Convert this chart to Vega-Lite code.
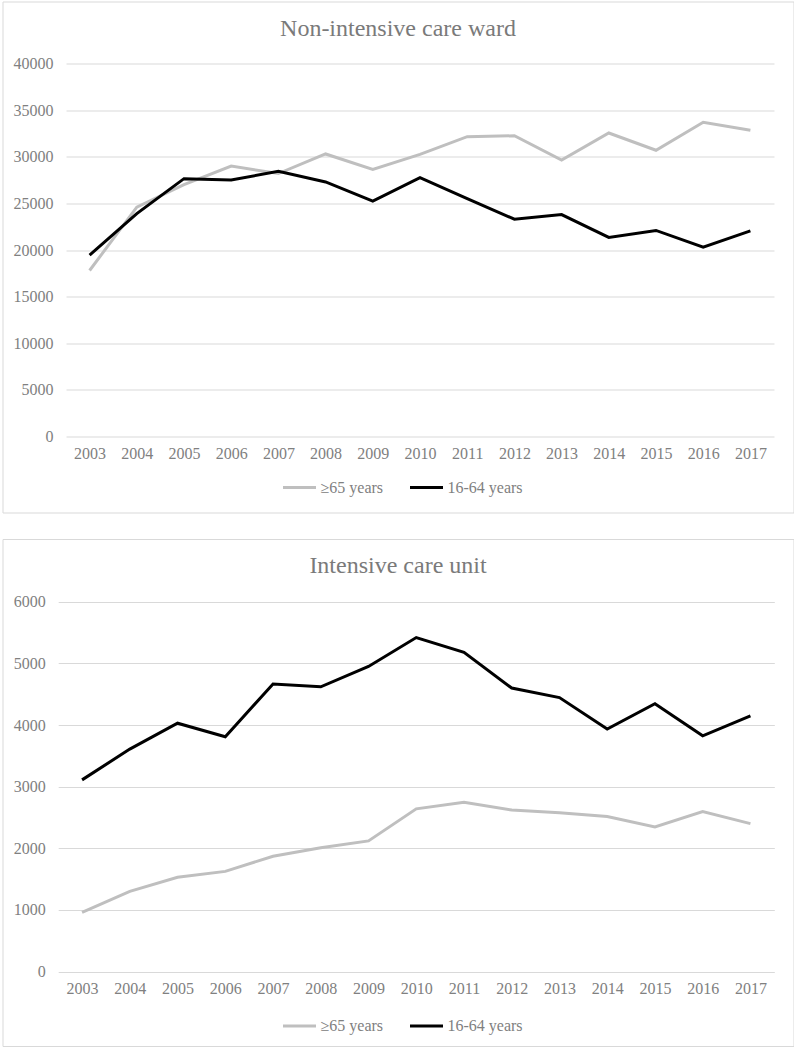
{
  "$schema": "https://vega.github.io/schema/vega-lite/v6.json",
  "padding": {"left": 1.5, "top": 0.5, "right": 1, "bottom": 1},
  "config": {
    "font": "Liberation Serif",
    "view": {"stroke": "#d9d9d9", "strokeWidth": 1},
    "concat": {"spacing": 24.5},
    "axis": {
      "labelFont": "Liberation Serif",
      "labelFontSize": 16,
      "labelColor": "#808080",
      "domain": false,
      "ticks": false,
      "title": null,
      "gridColor": "#d9d9d9",
      "gridWidth": 1
    },
    "legend": {
      "labelFont": "Liberation Serif",
      "labelFontSize": 16,
      "labelColor": "#808080",
      "symbolStrokeWidth": 3,
      "symbolSize": 1089,
      "symbolType": "stroke",
      "columnPadding": 20,
      "labelOffset": 3,
      "title": null
    },
    "title": {
      "font": "Liberation Serif",
      "fontSize": 24,
      "fontWeight": "normal",
      "color": "#7a7a7a",
      "anchor": "middle",
      "baseline": "alphabetic"
    }
  },
  "resolve": {"scale": {"color": "independent"}, "legend": {"color": "independent"}},
  "datasets": {
    "ward": [
      {"year": "2003", "group": "≥65 years", "value": 17800},
      {"year": "2004", "group": "≥65 years", "value": 24600},
      {"year": "2005", "group": "≥65 years", "value": 27000},
      {"year": "2006", "group": "≥65 years", "value": 29000},
      {"year": "2007", "group": "≥65 years", "value": 28200},
      {"year": "2008", "group": "≥65 years", "value": 30300},
      {"year": "2009", "group": "≥65 years", "value": 28650},
      {"year": "2010", "group": "≥65 years", "value": 30250},
      {"year": "2011", "group": "≥65 years", "value": 32150},
      {"year": "2012", "group": "≥65 years", "value": 32250},
      {"year": "2013", "group": "≥65 years", "value": 29650},
      {"year": "2014", "group": "≥65 years", "value": 32550},
      {"year": "2015", "group": "≥65 years", "value": 30700},
      {"year": "2016", "group": "≥65 years", "value": 33700},
      {"year": "2017", "group": "≥65 years", "value": 32850},
      {"year": "2003", "group": "16-64 years", "value": 19450},
      {"year": "2004", "group": "16-64 years", "value": 23900},
      {"year": "2005", "group": "16-64 years", "value": 27650},
      {"year": "2006", "group": "16-64 years", "value": 27500},
      {"year": "2007", "group": "16-64 years", "value": 28450},
      {"year": "2008", "group": "16-64 years", "value": 27300},
      {"year": "2009", "group": "16-64 years", "value": 25250},
      {"year": "2010", "group": "16-64 years", "value": 27750},
      {"year": "2011", "group": "16-64 years", "value": 25500},
      {"year": "2012", "group": "16-64 years", "value": 23300},
      {"year": "2013", "group": "16-64 years", "value": 23800},
      {"year": "2014", "group": "16-64 years", "value": 21350},
      {"year": "2015", "group": "16-64 years", "value": 22100},
      {"year": "2016", "group": "16-64 years", "value": 20300},
      {"year": "2017", "group": "16-64 years", "value": 22050}
    ],
    "icu": [
      {"year": "2003", "group": "≥65 years", "value": 960},
      {"year": "2004", "group": "≥65 years", "value": 1300},
      {"year": "2005", "group": "≥65 years", "value": 1530},
      {"year": "2006", "group": "≥65 years", "value": 1625},
      {"year": "2007", "group": "≥65 years", "value": 1870},
      {"year": "2008", "group": "≥65 years", "value": 2010},
      {"year": "2009", "group": "≥65 years", "value": 2120},
      {"year": "2010", "group": "≥65 years", "value": 2640},
      {"year": "2011", "group": "≥65 years", "value": 2745},
      {"year": "2012", "group": "≥65 years", "value": 2620},
      {"year": "2013", "group": "≥65 years", "value": 2575},
      {"year": "2014", "group": "≥65 years", "value": 2515},
      {"year": "2015", "group": "≥65 years", "value": 2345},
      {"year": "2016", "group": "≥65 years", "value": 2595},
      {"year": "2017", "group": "≥65 years", "value": 2400},
      {"year": "2003", "group": "16-64 years", "value": 3110},
      {"year": "2004", "group": "16-64 years", "value": 3610},
      {"year": "2005", "group": "16-64 years", "value": 4030},
      {"year": "2006", "group": "16-64 years", "value": 3810},
      {"year": "2007", "group": "16-64 years", "value": 4665},
      {"year": "2008", "group": "16-64 years", "value": 4620},
      {"year": "2009", "group": "16-64 years", "value": 4950},
      {"year": "2010", "group": "16-64 years", "value": 5420},
      {"year": "2011", "group": "16-64 years", "value": 5180},
      {"year": "2012", "group": "16-64 years", "value": 4600},
      {"year": "2013", "group": "16-64 years", "value": 4445},
      {"year": "2014", "group": "16-64 years", "value": 3935},
      {"year": "2015", "group": "16-64 years", "value": 4345},
      {"year": "2016", "group": "16-64 years", "value": 3825},
      {"year": "2017", "group": "16-64 years", "value": 4150}
    ]
  },
  "vconcat": [
    {
      "width": 791,
      "height": 511,
      "data": {"name": "ward"},
      "title": {"text": "Non-intensive care ward", "offset": -39},
      "mark": {"type": "line", "strokeWidth": 3},
      "encoding": {
        "x": {
          "field": "year", "type": "ordinal",
          "scale": {"type": "point", "range": [63.5, 771.5], "padding": 0.5},
          "axis": {"orient": "bottom", "offset": -76, "labelAngle": 0, "labelPadding": 9, "grid": false}
        },
        "y": {
          "field": "value", "type": "quantitative",
          "scale": {"domain": [0, 40000], "range": [435, 62], "nice": false, "zero": true},
          "axis": {"orient": "left", "offset": -63.5, "labelPadding": 13, "grid": true, "format": "d",
                   "values": [0, 5000, 10000, 15000, 20000, 25000, 30000, 35000, 40000]}
        },
        "color": {
          "field": "group", "type": "nominal",
          "scale": {"domain": ["≥65 years", "16-64 years"], "range": ["#bfbfbf", "#000000"]},
          "legend": {"orient": "none", "direction": "horizontal", "legendX": 279, "legendY": 468}
        }
      }
    },
    {
      "width": 791,
      "height": 507,
      "data": {"name": "icu"},
      "title": {"text": "Intensive care unit", "offset": -39},
      "mark": {"type": "line", "strokeWidth": 3},
      "encoding": {
        "x": {
          "field": "year", "type": "ordinal",
          "scale": {"type": "point", "range": [55.7, 771.8], "padding": 0.5},
          "axis": {"orient": "bottom", "offset": -74.5, "labelAngle": 0, "labelPadding": 9, "grid": false}
        },
        "y": {
          "field": "value", "type": "quantitative",
          "scale": {"domain": [0, 6000], "range": [432.5, 62.8], "nice": false, "zero": true},
          "axis": {"orient": "left", "offset": -55.7, "labelPadding": 13, "grid": true, "format": "d",
                   "values": [0, 1000, 2000, 3000, 4000, 5000, 6000]}
        },
        "color": {
          "field": "group", "type": "nominal",
          "scale": {"domain": ["≥65 years", "16-64 years"], "range": ["#bfbfbf", "#000000"]},
          "legend": {"orient": "none", "direction": "horizontal", "legendX": 279, "legendY": 469}
        }
      }
    }
  ]
}
